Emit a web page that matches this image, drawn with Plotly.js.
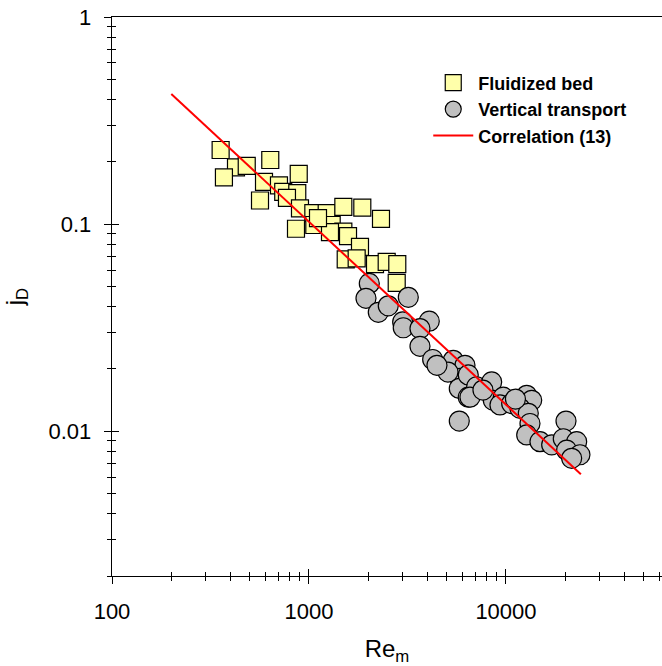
<!DOCTYPE html>
<html>
<head>
<meta charset="utf-8">
<script src="https://cdn.plot.ly/plotly-3.0.1.min.js"></script>
<style>html,body{margin:0;padding:0;background:#fff;}#chart{width:662px;height:666px;}</style>
</head>
<body>
<div id="chart"></div>
<script>
// Fluidized bed data (Re_m, j_D)
const fbRe = [356, 426, 483, 370, 636, 591, 704, 740, 564, 887, 872, 773, 900, 859, 1052, 1230, 1494, 1865, 2320, 1064, 1304, 1494, 1578, 1815, 1536, 1746, 2163, 2480, 2807, 2788, 1278, 1111];
const fbJD = [0.228, 0.188, 0.191, 0.168, 0.204, 0.160, 0.154, 0.143, 0.130, 0.175, 0.141, 0.134, 0.119, 0.095, 0.113, 0.113, 0.121, 0.120, 0.106, 0.099, 0.099, 0.092, 0.0875, 0.0777, 0.0675, 0.0683, 0.0641, 0.0657, 0.0641, 0.0520, 0.0915, 0.107];

// Vertical transport data (Re_m, j_D)
const vtRe = [2024, 1947, 2248, 2526, 3193, 2989, 3010, 4080, 3660, 3660, 4245, 4960, 5401, 6193, 5842, 5794, 6436, 6436, 5794, 7100, 6566, 8461, 8620, 9690, 9322, 10690, 12740, 13510, 11780, 12980, 13240, 12740, 14880, 17060, 20170, 19540, 22850, 20330, 23740, 21550, 5076, 7641, 4464, 11170];
const vtJD = [0.0517, 0.0438, 0.0375, 0.0403, 0.0443, 0.0337, 0.0316, 0.0340, 0.0313, 0.0257, 0.0222, 0.0203, 0.0220, 0.0208, 0.0180, 0.0161, 0.0187, 0.0146, 0.0112, 0.0164, 0.0146, 0.0173, 0.0141, 0.0146, 0.0134, 0.0136, 0.0149, 0.0141, 0.0129, 0.0122, 0.0109, 0.0096, 0.0089, 0.0086, 0.0112, 0.0092, 0.0089, 0.0081, 0.0077, 0.0074, 0.0193, 0.0158, 0.0208, 0.0143];

// Correlation (13) end points
const corRe = [200, 24000];
const corJD = [0.425, 0.0062];

// Axis ticks
const xMajor = [100, 1000, 10000];
const xMajorText = ["100", "1000", "10000"];
const xMinor = [200,300,400,500,600,700,800,900,2000,3000,4000,5000,6000,7000,8000,9000,20000,30000,40000,50000,60000];
const yMajor = [0.01, 0.1, 1];
const yMajorText = ["0.01", "0.1", "1"];
const yMinor = [0.002,0.003,0.004,0.005,0.006,0.007,0.008,0.009,0.02,0.03,0.04,0.05,0.06,0.07,0.08,0.09,0.2,0.3,0.4,0.5,0.6,0.7,0.8,0.9];

const font = "Arial, 'Liberation Sans', sans-serif";
const xRange = [2, 4.792];
const yRange = [Math.log10(0.002), 0];

const traces = [
  {x: fbRe, y: fbJD, type: 'scatter', mode: 'markers', name: 'Fluidized bed',
   marker: {symbol: 'square', size: 17, color: '#ffffaa', line: {color: '#000', width: 1.2}}},
  {x: vtRe, y: vtJD, type: 'scatter', mode: 'markers', name: 'Vertical transport',
   marker: {symbol: 'circle', size: 20, color: '#c0c0c0', line: {color: '#000', width: 1.2}}},
  {x: corRe, y: corJD, type: 'scatter', mode: 'lines', name: 'Correlation (13)',
   line: {color: '#ff0000', width: 2}},
  // invisible helper trace for inside ticks overlay
  {x: [1000], y: [0.1], xaxis: 'x2', yaxis: 'y2', type: 'scatter', mode: 'markers',
   marker: {opacity: 0}, showlegend: false, hoverinfo: 'skip'}
];

const baseX = {
  type: 'log', range: xRange, tickmode: 'array', tickvals: xMajor, ticktext: xMajorText,
  ticklen: 7, tickwidth: 1, tickcolor: '#000', showgrid: false, zeroline: false,
  minor: {tickmode: 'array', tickvals: xMinor, ticklen: 4, tickwidth: 1, tickcolor: '#000', showgrid: false}
};
const baseY = {
  type: 'log', range: yRange, tickmode: 'array', tickvals: yMajor, ticktext: yMajorText,
  ticklen: 7, tickwidth: 1, tickcolor: '#000', showgrid: false, zeroline: false,
  minor: {tickmode: 'array', tickvals: yMinor, ticklen: 4, tickwidth: 1, tickcolor: '#000', showgrid: false}
};

const layout = {
  width: 662, height: 666,
  margin: {l: 112, r: 0, t: 17, b: 90},
  paper_bgcolor: '#fff', plot_bgcolor: '#fff',
  font: {family: font, color: '#000'},
  showlegend: true,
  legend: {x: 0.575, y: 0.915, xanchor: 'left', yanchor: 'top', bgcolor: 'rgba(0,0,0,0)',
           itemwidth: 40, tracegroupgap: 0,
           font: {family: font, size: 18, weight: 'bold', color: '#000'}},
  xaxis: Object.assign({}, baseX, {
    ticks: 'outside', minor: Object.assign({}, baseX.minor, {ticks: 'outside'}),
    showline: true, linecolor: '#000', linewidth: 1.3, mirror: true,
    tickfont: {family: font, size: 22}, ticklabelstandoff: 8,
    title: {text: 'Re<sub>m</sub>', font: {family: font, size: 24}, standoff: 19},
    automargin: false
  }),
  yaxis: Object.assign({}, baseY, {
    ticks: 'outside', minor: Object.assign({}, baseY.minor, {ticks: 'outside'}),
    showline: true, linecolor: '#000', linewidth: 1.3,
    tickfont: {family: font, size: 22}, ticklabelstandoff: 8,
    title: {text: 'j<sub>D</sub>', font: {family: font, size: 24}, standoff: 18},
    automargin: false
  }),
  xaxis2: Object.assign({}, baseX, {
    overlaying: 'x', anchor: 'y2', side: 'bottom', ticks: 'inside',
    minor: Object.assign({}, baseX.minor, {ticks: 'inside'}),
    showticklabels: false, showline: false
  }),
  yaxis2: Object.assign({}, baseY, {
    overlaying: 'y', anchor: 'x2', side: 'left', ticks: 'inside',
    minor: Object.assign({}, baseY.minor, {ticks: 'inside'}),
    showticklabels: false, showline: false
  })
};

Plotly.newPlot('chart', traces, layout, {displayModeBar: false, staticPlot: true});
</script>
</body>
</html>
